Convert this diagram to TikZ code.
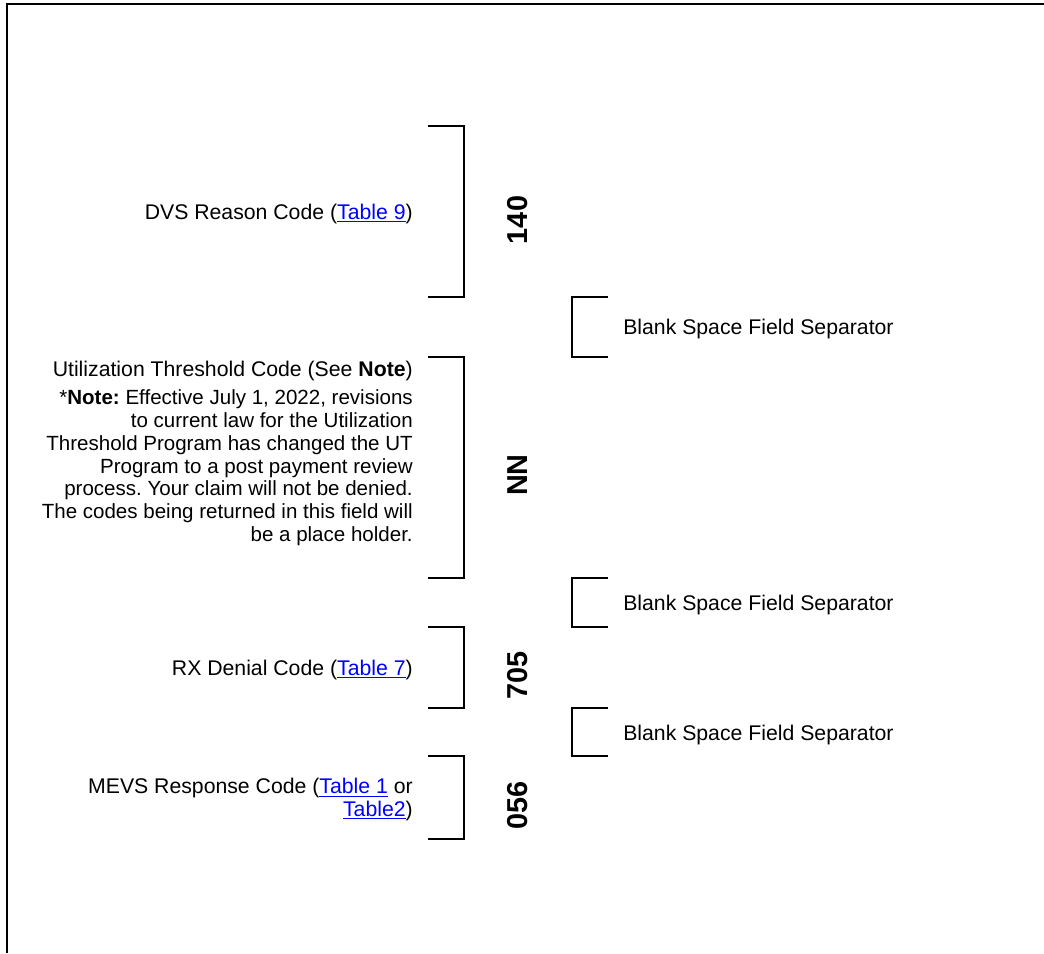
\documentclass[tikz,border=0pt]{standalone}
\usepackage{fontspec}
\setmainfont{Liberation Sans}
\usepackage{xcolor}
\usepackage{tikz}
\usetikzlibrary{positioning}

\newcommand\tabref[1]{\textcolor{blue}{\underline{#1}}}
\frenchspacing

\begin{document}
\begin{tikzpicture}
    [
      x=0.025cm, y=-0.025cm,
      fieldtext/.style={font=\fontsize{15.1pt}{16.3pt}\selectfont, inner sep=0pt},
      notetext/.style={font=\fontsize{14.6pt}{16.3pt}\selectfont, inner sep=0pt},
      codenum/.style={font=\fontsize{20.5pt}{21pt}\selectfont\bfseries, rotate=90, inner sep=0pt},
      brace/.style={line width=1.4pt},
      pageframe/.style={line width=1.6pt},
    ]
    \useasboundingbox (0,0) rectangle (1044,953);

    \draw [pageframe] (7,953) -- (7,4) -- (1044,4);

    % field brackets and separators
    \foreach \top/\bot in {126/297, 357/578, 627/708, 756/839}
      \draw [brace] (428,\top) -| (464,\bot) -- (428,\bot);
    \foreach \top/\bot in {297/357, 578/627, 708/756}
      \draw [brace] (608,\top) -| (572,\bot) -- (608,\bot);

    \node (dvs) [fieldtext, anchor=base east] at (413,219) {DVS Reason Code (\tabref{Table 9})};
    \node (c140) [codenum] at (518,220) {140};

    \node (util) [fieldtext, anchor=base east] at (413,376) {Utilization Threshold Code (See \textbf{Note})};
    \node (note) [notetext, align=right, below=6pt of util.south east, anchor=north east]
      {*\textbf{Note:} Effective July 1, 2022, revisions\\
       to current law for the Utilization\\
       Threshold Program has changed the UT\\
       Program to a post payment review\\
       process. Your claim will not be denied.\\
       The codes being returned in this field will\\
       be a place holder.};
    \node (cnn) [codenum] at (518,475) {NN};

    \node (rx) [fieldtext, anchor=base east] at (413,675) {RX Denial Code (\tabref{Table 7})};
    \node (c705) [codenum] at (518,675) {705};

    \node (mevs) [fieldtext, anchor=north east, align=right] at (413,778)
      {MEVS Response Code (\tabref{Table 1} or\\ \tabref{Table2})};
    \node (c056) [codenum] at (518,805) {056};

    \node (sep1) [fieldtext, anchor=base west] at (623,334) {Blank Space Field Separator};
    \node (sep2) [fieldtext, anchor=base west] at (623,610) {Blank Space Field Separator};
    \node (sep3) [fieldtext, anchor=base west] at (623,740) {Blank Space Field Separator};

\end{tikzpicture}
\end{document}
